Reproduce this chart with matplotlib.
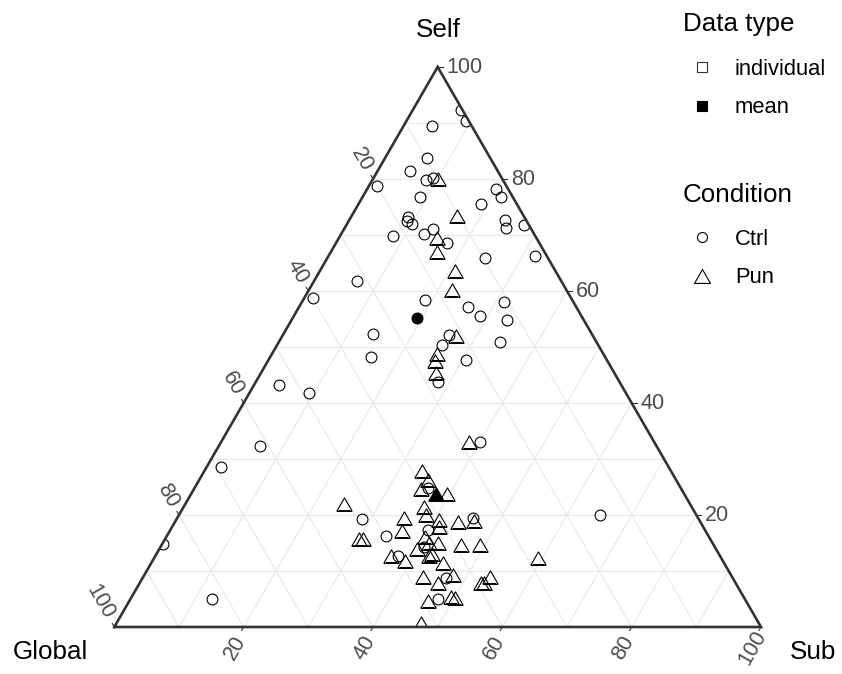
import numpy as np
import matplotlib
matplotlib.use('Agg')
import matplotlib.pyplot as plt
from matplotlib.path import Path
from matplotlib.patches import Polygon
import matplotlib.transforms as mtrans

plt.rcParams['font.family'] = ['Liberation Sans', 'DejaVu Sans']

# ---------------- data (percent: Global, Self, Sub) ----------------
ctrl_global = [0.3, 0.4, 6.2, 9.8, 13.6, 11.9, 10.6, 20.0, 14.3, 1.9, 1.8, 5.6, 18.0, 18.5, 18.0,
               3.3, 3.9, 0.8, 21.9, 15.2, 17.0, 14.2, 9.8, 1.9, 31.6, 22.7, 16.7, 10.7, 15.7, 11.8,
               33.8, 22.2, 24.1, 14.9, 36.2, 21.8, 28.1, 40.0, 53.0, 49.1, 61.2, 69.3, 85.0, 82.4,
               14.9, 26.9, 34.9, 52.0, 49.9, 49.9, 44.4, 47.4, 42.9, 44.9, 39.0]
ctrl_self = [92.3, 90.4, 89.5, 83.7, 81.4, 79.8, 80.1, 78.7, 76.8, 78.2, 76.8, 75.5, 73.2, 72.5, 71.9,
             72.7, 71.2, 71.8, 69.9, 71.1, 70.1, 68.6, 65.8, 66.2, 61.8, 58.4, 57.2, 58.0, 55.5, 54.9,
             52.3, 52.1, 50.4, 50.8, 48.2, 47.6, 43.7, 58.7, 43.2, 41.7, 32.4, 28.5, 14.8, 5.0,
             20.0, 33.1, 19.4, 19.3, 16.3, 12.6, 8.7, 5.0, 17.3, 14.3, 24.9]
ctrl_sub = [7.4, 9.2, 4.3, 6.5, 5.0, 8.3, 9.3, 1.3, 8.9, 19.9, 21.4, 18.9, 8.8, 9.0, 10.1,
            24.0, 24.9, 27.4, 8.2, 13.7, 12.9, 17.2, 24.4, 31.9, 6.6, 18.9, 26.1, 31.3, 28.8, 33.3,
            13.9, 25.7, 25.5, 34.3, 15.6, 30.6, 28.2, 1.3, 3.8, 9.2, 6.4, 2.2, 0.2, 12.6,
            65.1, 40.0, 45.7, 28.7, 33.8, 37.5, 46.9, 47.6, 39.8, 40.8, 36.1]

pun_global = [9.9, 10.4, 15.4, 16.6, 15.5, 17.7, 21.1, 25.7, 26.6, 27.6, 28.6, 38.5, 38.3, 40.2,
              36.7, 53.5, 41.4, 41.8, 45.5, 40.3, 40.9, 37.5, 35.0, 47.0, 54.3, 53.6, 43.9, 43.9,
              42.5, 46.2, 39.1, 36.1, 50.9, 49.2, 45.1, 44.3, 43.4, 28.3, 47.7, 46.0, 43.0, 39.3,
              39.0, 37.4, 49.2, 45.2, 44.7, 52.1]
pun_self = [80.0, 73.3, 69.5, 67.0, 63.6, 60.2, 52.0, 48.7, 47.5, 45.4, 33.1, 27.8, 26.3, 24.6,
            23.7, 21.9, 21.4, 20.0, 19.4, 19.1, 17.9, 18.8, 18.9, 17.1, 15.8, 15.8, 16.1, 15.0,
            15.0, 14.0, 14.6, 14.6, 12.6, 11.8, 12.6, 13.0, 11.4, 12.4, 9.0, 7.8, 9.3, 7.9,
            7.8, 9.0, 4.6, 5.4, 5.1, 0.8]
pun_sub = [10.1, 16.3, 15.1, 16.4, 20.9, 22.1, 26.9, 25.6, 25.9, 27.0, 38.3, 33.7, 35.4, 35.2,
           39.6, 24.6, 37.2, 38.2, 35.1, 40.6, 41.2, 43.7, 46.1, 35.9, 29.9, 30.6, 40.0, 41.1,
           42.5, 39.8, 46.3, 49.3, 36.5, 39.0, 42.3, 42.7, 45.2, 59.3, 43.3, 46.2, 47.7, 52.8,
           53.2, 53.6, 46.2, 49.4, 50.2, 47.1]

mean_ctrl = (25.6, 55.1, 19.3)   # Global, Self, Sub
mean_pun = (38.4, 23.7, 37.9)

breaks = [20, 40, 60, 80, 100]
grid_vals = [10, 20, 30, 40, 50, 60, 70, 80, 90]
axis_titles = {'top': 'Self', 'left': 'Global', 'right': 'Sub'}
legend1_title, legend1_labels = 'Data type', ['individual', 'mean']
legend2_title, legend2_labels = 'Condition', ['Ctrl', 'Pun']

# ---------------- figure ----------------
W, H = 842, 674
fig = plt.figure(figsize=(W / 100, H / 100), dpi=100)
S3 = np.sqrt(3) / 2
TX0, TX1, TY0 = 114.3, 761.0, 627.0
TTOP = TY0 - (TX1 - TX0) * S3
ax = fig.add_axes([TX0 / W, 1 - TY0 / H, (TX1 - TX0) / W, (TY0 - TTOP) / H])
ax.set_xlim(0, 1)
ax.set_ylim(0, S3)
ax.axis('off')
PX = 1.0 / (TX1 - TX0)  # data units per pixel


def tern(g, s, u):
    g, s, u = np.asarray(g, float), np.asarray(s, float), np.asarray(u, float)
    tot = g + s + u
    s, u = s / tot, u / tot
    return u + s / 2, s * S3


# grid
gcol = '#E8E8E8'
for v in grid_vals:
    f = v / 100
    for (a, b) in [((1 - f, f, 0), (0, f, 1 - f)),
                   ((1 - f, 0, f), (0, 1 - f, f)),
                   ((f, 0, 1 - f), (f, 1 - f, 0))]:
        x1, y1 = tern(*a)
        x2, y2 = tern(*b)
        ax.plot([x1, x2], [y1, y2], color=gcol, lw=0.8, zorder=1, solid_capstyle='butt')

# border
bx, by = tern([100, 0, 0, 100], [0, 100, 0, 0], [0, 0, 100, 0])
ax.plot(bx, by, color='#333333', lw=1.9, zorder=5, solid_joinstyle='miter', clip_on=False)
clip_tri = Polygon(np.column_stack([bx, by]), closed=True, transform=ax.transData,
                   facecolor='none', edgecolor='none')
ax.add_patch(clip_tri)

# ticks + labels
tcol = '#333333'
lab_col = '#4D4D4D'
fs_tick = 15.5
for b in breaks:
    f = b / 100
    # Self (right edge)
    x, y = tern(0, f, 1 - f)
    ax.plot([x, x + 5 * PX], [y, y], color=tcol, lw=0.8, clip_on=False, zorder=2)
    ax.text(x, y, str(b), transform=mtrans.offset_copy(ax.transData, fig=fig, x=9, y=-1, units='dots'),
            ha='left', va='center', fontsize=fs_tick, color=lab_col)
    # Global (left edge)
    x, y = tern(f, 1 - f, 0)
    ax.plot([x, x - 0.5 * 4 * PX], [y, y + S3 * 4 * PX], color=tcol, lw=0.8, clip_on=False, zorder=2)
    ax.text(x, y, str(b), transform=mtrans.offset_copy(ax.transData, fig=fig, x=-5, y=9, units='dots'),
            ha='right', va='center', rotation=-60, rotation_mode='anchor',
            fontsize=fs_tick, color=lab_col)
    # Sub (bottom edge)
    x, y = tern(1 - f, 0, f)
    ax.plot([x, x - 0.5 * 4 * PX], [y, y - S3 * 4 * PX], color=tcol, lw=0.8, clip_on=False, zorder=2)
    ax.text(x, y, str(b), transform=mtrans.offset_copy(ax.transData, fig=fig, x=-8, y=-21, units='dots'),
            ha='center', va='center', rotation=60, rotation_mode='anchor',
            fontsize=fs_tick, color=lab_col)

# markers
tri = Path([(-1, -0.866), (1, -0.866), (0, 0.866), (-1, -0.866)],
           [Path.MOVETO, Path.LINETO, Path.LINETO, Path.CLOSEPOLY])
ms_c, ms_t, mew = 7.8, 11.0, 0.8

cx, cy = tern(ctrl_global, ctrl_self, ctrl_sub)
l1, = ax.plot(cx, cy, ls='none', marker='o', ms=ms_c, mfc='none', mec='black', mew=mew, zorder=3)
px_, py_ = tern(pun_global, pun_self, pun_sub)
l2, = ax.plot(px_, py_, ls='none', marker=tri, ms=ms_t, mfc='none', mec='black', mew=mew, zorder=3)
mx, my = tern(*mean_ctrl)
l3, = ax.plot([mx], [my], ls='none', marker='o', ms=ms_c, mfc='black', mec='black', mew=mew, zorder=4)
mx, my = tern(*mean_pun)
l4, = ax.plot([mx], [my], ls='none', marker=tri, ms=ms_t, mfc='black', mec='black', mew=mew, zorder=4)
for ln in (l1, l2, l3, l4):
    ln.set_clip_path(clip_tri)

# ---------------- overlay (titles + legend) in pixel coords ----------------
lax = fig.add_axes([0, 0, 1, 1], zorder=5)
lax.set_xlim(0, W)
lax.set_ylim(H, 0)
lax.axis('off')
fs_title = 18.7
fs_leg = 15.8
lax.text(438, 37, axis_titles['top'], ha='center', va='baseline', fontsize=fs_title, color='black')
lax.text(88, 659, axis_titles['left'], ha='right', va='baseline', fontsize=fs_title, color='black')
lax.text(790, 659, axis_titles['right'], ha='left', va='baseline', fontsize=fs_title, color='black')

lax.text(683, 31, legend1_title, ha='left', va='baseline', fontsize=fs_title)
lax.plot([702], [67], marker='s', ms=6.8, mfc='none', mec='#333333', mew=0.8, ls='none')
lax.plot([702], [106], marker='s', ms=7.0, mfc='black', mec='black', mew=0.8, ls='none')
lax.text(735, 75, legend1_labels[0], ha='left', va='baseline', fontsize=fs_leg)
lax.text(735, 113, legend1_labels[1], ha='left', va='baseline', fontsize=fs_leg)

lax.text(683, 202, legend2_title, ha='left', va='baseline', fontsize=fs_title)
lax.plot([702], [237], marker='o', ms=7.2, mfc='none', mec='black', mew=0.8, ls='none')
lax.plot([702], [276], marker=tri, ms=11.5, mfc='none', mec='black', mew=0.8, ls='none')
lax.text(735, 245, legend2_labels[0], ha='left', va='baseline', fontsize=fs_leg)
lax.text(735, 283, legend2_labels[1], ha='left', va='baseline', fontsize=fs_leg)

fig.savefig('out.png', dpi=100, facecolor='white')
